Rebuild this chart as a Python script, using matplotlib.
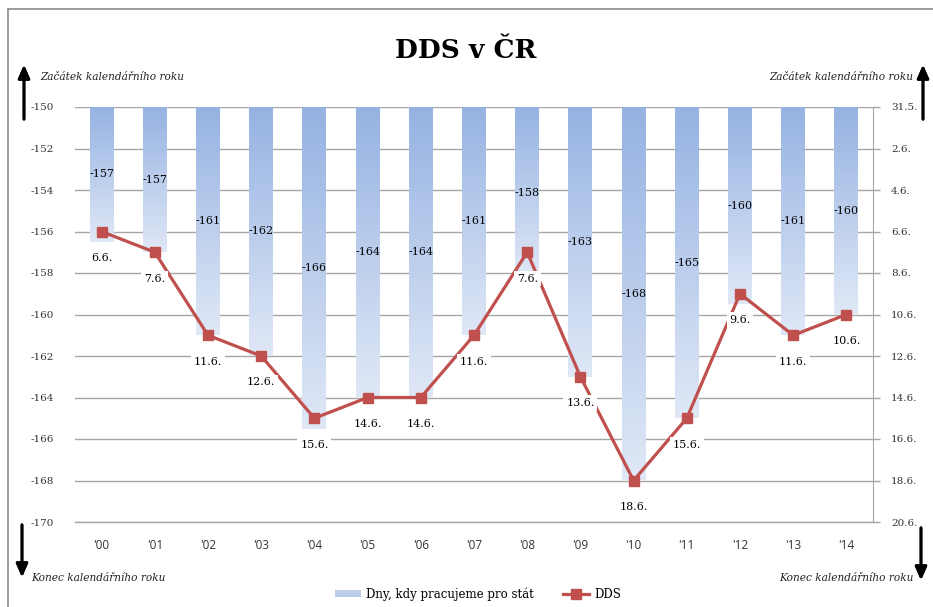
import matplotlib.pyplot as plt
import numpy as np
from matplotlib.patches import Patch
from matplotlib.lines import Line2D
from matplotlib.colors import LinearSegmentedColormap

# data
roky = ["'00", "'01", "'02", "'03", "'04", "'05", "'06", "'07",
        "'08", "'09", "'10", "'11", "'12", "'13", "'14"]
dny = [-156.5, -157, -161, -162, -165.5, -164, -164, -161,
       -158.3, -163, -168, -165, -159.5, -161, -160]
dny_popisky = ["-157", "-157", "-161", "-162", "-166", "-164", "-164", "-161",
               "-158", "-163", "-168", "-165", "-160", "-161", "-160"]
dds = [-156, -157, -161, -162, -165, -164, -164, -161,
       -157, -163, -168, -165, -159, -161, -160]
dds_popisky = ["6.6.", "7.6.", "11.6.", "12.6.", "15.6.", "14.6.", "14.6.", "11.6.",
               "7.6.", "13.6.", "18.6.", "15.6.", "9.6.", "11.6.", "10.6."]
y_ticks = [-150, -152, -154, -156, -158, -160, -162, -164, -166, -168, -170]
datum_ticks = ["31.5.", "2.6.", "4.6.", "6.6.", "8.6.", "10.6.",
               "12.6.", "14.6.", "16.6.", "18.6.", "20.6."]

serif = "DejaVu Serif"
W, H = 933, 607
fig = plt.figure(figsize=(W / 100, H / 100), dpi=100)
ax = fig.add_axes([75 / W, 1 - 522 / H, 798 / W, 415 / H])

x = np.arange(len(roky))
bary = ax.bar(x, [v + 150 for v in dny], bottom=-150, width=0.45,
              color="none", edgecolor="none", zorder=2)

# gradient v kazdem sloupci
grad = np.linspace(0, 1, 256).reshape(-1, 1)
cmap = LinearSegmentedColormap.from_list("g", ["#95b2e2", "#e0e8f6"])
for b in bary:
    x0, y0 = b.get_x(), b.get_y()
    w, h = b.get_width(), b.get_height()
    ax.imshow(grad, cmap=cmap, aspect="auto", extent=(x0, x0 + w, y0 + h, y0),
              zorder=2, interpolation="bilinear")

for i, b in enumerate(bary):
    ym = b.get_y() + b.get_height() / 2
    ax.text(x[i], ym, dny_popisky[i], ha="center", va="center",
            fontsize=8, family=serif, color="black", zorder=3)

ax.plot(x, dds, color="#c0504d", lw=2.3, marker="s", ms=7, zorder=4)
for i, v in enumerate(dds):
    ax.annotate(dds_popisky[i], (x[i], v), xytext=(0, -19), textcoords="offset points",
                ha="center", va="center", fontsize=8, family=serif, zorder=5,
                bbox=dict(boxstyle="square,pad=0.25", fc="white", ec="none"))

ax.set_xlim(-0.5, len(roky) - 0.5)
ax.set_ylim(-170, -150)
ax.set_yticks(y_ticks)
ax.set_yticklabels([str(t) for t in y_ticks], family=serif, fontsize=7.5)
ax.tick_params(axis="y", length=0, pad=15, colors="#333333")
ax.set_xticks(x)
ax.set_xticklabels(roky, fontsize=8.5, family="Open Sans", color="#333333")
ax.tick_params(axis="x", length=0, pad=12)
ax.grid(axis="y", color="#a6a6a6", lw=1, zorder=0)
ax.axhline(-170, color="#a6a6a6", lw=1, zorder=0, clip_on=False)
ax.set_axisbelow(True)
for s in ["top", "left", "bottom", "right"]:
    ax.spines[s].set_visible(False)

ax2 = ax.twinx()
ax2.set_ylim(-170, -150)
ax2.set_yticks(y_ticks)
ax2.set_yticklabels(datum_ticks, family=serif, fontsize=7.5)
ax2.tick_params(axis="y", length=5, width=1, pad=8, colors="#333333")
ax2.tick_params(axis="y", color="#a6a6a6")
for s in ["top", "left", "bottom"]:
    ax2.spines[s].set_visible(False)
ax2.spines["right"].set_color("#a6a6a6")

fig.text(466 / W, 1 - 50 / H, "DDS v ČR", ha="center", va="center",
         fontsize=19, fontweight="bold", family=serif)

# sipky a popisky
def sipka(x0, ytail, yhead):
    fig.add_artist(plt.annotate("", xy=(x0 / W, 1 - yhead / H), xytext=(x0 / W, 1 - ytail / H),
                                xycoords="figure fraction", textcoords="figure fraction",
                                arrowprops=dict(arrowstyle="-|>,head_width=0.35,head_length=0.8",
                                                color="black", lw=2)))

sipka(24, 122, 62)
sipka(923, 122, 62)
sipka(22, 522, 580)
sipka(921, 525, 583)
popis = dict(va="center", fontsize=7.6, style="italic", family=serif, color="#222222")
fig.text(40 / W, 1 - 77 / H, "Začátek kalendářního roku", ha="left", **popis)
fig.text(913 / W, 1 - 77 / H, "Začátek kalendářního roku", ha="right", **popis)
fig.text(31 / W, 1 - 578 / H, "Konec kalendářního roku", ha="left", **popis)
fig.text(914 / W, 1 - 578 / H, "Konec kalendářního roku", ha="right", **popis)

# ramecek
fig.add_artist(Line2D([8 / W, 8 / W], [0, 1 - 9 / H], transform=fig.transFigure,
                      color="#8c8c8c", lw=1.2))
fig.add_artist(Line2D([8 / W, 1], [1 - 9 / H, 1 - 9 / H], transform=fig.transFigure,
                      color="#8c8c8c", lw=1.2))

handles = [Patch(facecolor="#bccdec", edgecolor="none"),
           Line2D([], [], color="#c0504d", lw=2.3, marker="s", ms=7)]
fig.legend(handles, ["Dny, kdy pracujeme pro stát", "DDS"], loc="center",
           bbox_to_anchor=(478 / W, 1 - 594 / H), ncol=2, frameon=False,
           prop={"family": serif, "size": 8.5}, handlelength=2.2, handleheight=0.5,
           columnspacing=2.5, handletextpad=0.4)

fig.savefig("out.png", dpi=100)
